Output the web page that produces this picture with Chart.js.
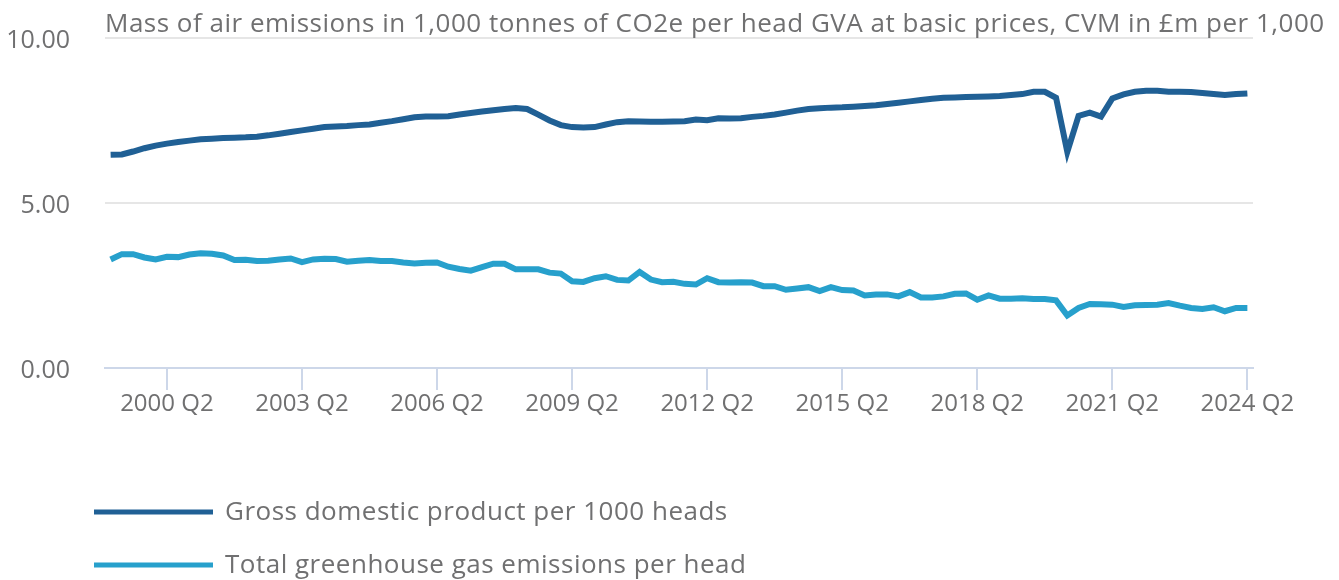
<!DOCTYPE html>
<html>
<head>
<meta charset="utf-8">
<script src="https://cdn.jsdelivr.net/npm/chart.js@4.4.1/dist/chart.umd.min.js"></script>
<style>
  html, body { margin: 0; padding: 0; background: #ffffff; }
  #wrap { position: relative; width: 1339px; height: 580px; }
</style>
</head>
<body>
<div id="wrap"><canvas id="c" width="1339" height="580"></canvas></div>
<script>
// ---- Data ----
const years = [];
for (let y = 1999; y <= 2024; y++) {
  for (let q = 1; q <= 4; q++) {
    if (y === 2024 && q > 2) break;
    years.push(y + ' Q' + q);
  }
}
const categories = years; // 1999 Q1 .. 2024 Q2

const gdpPer1000Heads = [
  6.46, 6.47, 6.56, 6.66, 6.74, 6.80, 6.85, 6.89, 6.93, 6.95,
  6.97, 6.98, 6.99, 7.01, 7.05, 7.10, 7.15, 7.20, 7.25, 7.30,
  7.32, 7.33, 7.36, 7.38, 7.43, 7.48, 7.54, 7.60, 7.62, 7.62,
  7.63, 7.68, 7.73, 7.77, 7.81, 7.85, 7.88, 7.85, 7.68, 7.50,
  7.36, 7.30, 7.29, 7.30, 7.38, 7.45, 7.48, 7.47, 7.46, 7.46,
  7.47, 7.48, 7.53, 7.51, 7.57, 7.56, 7.57, 7.61, 7.64, 7.68,
  7.74, 7.80, 7.85, 7.87, 7.89, 7.90, 7.92, 7.94, 7.96, 8.00,
  8.04, 8.08, 8.12, 8.16, 8.19, 8.20, 8.21, 8.22, 8.23, 8.24,
  8.27, 8.30, 8.37, 8.37, 8.19, 6.55, 7.64, 7.74, 7.62, 8.17,
  8.29, 8.37, 8.40, 8.40, 8.37, 8.37, 8.36, 8.33, 8.30, 8.27,
  8.30, 8.32
];

const ghgPerHead = [
  3.29, 3.45, 3.45, 3.35, 3.29, 3.37, 3.36, 3.44, 3.48, 3.46,
  3.41, 3.27, 3.28, 3.24, 3.25, 3.29, 3.32, 3.21, 3.29, 3.31,
  3.30, 3.22, 3.25, 3.27, 3.24, 3.24, 3.20, 3.17, 3.19, 3.20,
  3.07, 3.00, 2.95, 3.06, 3.16, 3.16, 2.99, 2.99, 2.99, 2.89,
  2.86, 2.63, 2.61, 2.72, 2.78, 2.67, 2.65, 2.91, 2.68, 2.60,
  2.61, 2.55, 2.53, 2.72, 2.60, 2.59, 2.60, 2.59, 2.48, 2.48,
  2.37, 2.41, 2.45, 2.33, 2.45, 2.36, 2.35, 2.20, 2.23, 2.23,
  2.17, 2.30, 2.14, 2.14, 2.17, 2.25, 2.26, 2.07, 2.20, 2.10,
  2.10, 2.11, 2.09, 2.09, 2.05, 1.59, 1.82, 1.94, 1.93, 1.92,
  1.85, 1.90, 1.91, 1.92, 1.97, 1.89, 1.82, 1.79, 1.84, 1.72,
  1.82, 1.82
];

const seriesNames = ['Gross domestic product per 1000 heads', 'Total greenhouse gas emissions per head'];
const yTickValues = [0, 5, 10];
const xTickLabels = ['2000 Q2', '2003 Q2', '2006 Q2', '2009 Q2', '2012 Q2', '2015 Q2', '2018 Q2', '2021 Q2', '2024 Q2'];
const axisTitle = 'Mass of air emissions in 1,000 tonnes of CO2e per head GVA at basic prices, CVM in £m per 1,000';

// ---- Styling ----
const FONT = '"Open Sans", "Noto Sans", sans-serif';
const TEXT = '#707071';
const DARK = '#206095';
const LIGHT = '#27a0cc';
const AXIS = '#cdd7e9';
const GRID = '#e6e6e6';

const titlePlugin = {
  id: 'topTitle',
  afterDraw(chart) {
    const ctx = chart.ctx;
    ctx.save();
    ctx.font = '26px ' + FONT;
    if ('letterSpacing' in ctx) ctx.letterSpacing = '0.5px';
    ctx.fillStyle = TEXT;
    ctx.textAlign = 'left';
    ctx.textBaseline = 'alphabetic';
    ctx.fillText(axisTitle, chart.chartArea.left, 32);
    ctx.restore();
  }
};

const legendPlugin = {
  id: 'vertLegend',
  afterDraw(chart) {
    const ctx = chart.ctx;
    ctx.save();
    ctx.font = '26px ' + FONT;
    if ('letterSpacing' in ctx) ctx.letterSpacing = '0.5px';
    ctx.textBaseline = 'middle';
    ctx.textAlign = 'left';
    const rows = [512, 565];
    chart.data.datasets.forEach((ds, i) => {
      const y = rows[i];
      ctx.strokeStyle = ds.borderColor;
      ctx.lineWidth = 5;
      ctx.lineCap = 'butt';
      ctx.beginPath();
      ctx.moveTo(94, y);
      ctx.lineTo(213, y);
      ctx.stroke();
      ctx.fillStyle = TEXT;
      ctx.fillText(ds.label, 225, y + 1);
    });
    ctx.restore();
  }
};

new Chart(document.getElementById('c'), {
  type: 'line',
  data: {
    labels: categories,
    datasets: [
      { label: seriesNames[0], data: gdpPer1000Heads, borderColor: DARK, backgroundColor: DARK,
        borderWidth: 6, pointRadius: 0, tension: 0, fill: false },
      { label: seriesNames[1], data: ghgPerHead, borderColor: LIGHT, backgroundColor: LIGHT,
        borderWidth: 6, pointRadius: 0, tension: 0, fill: false }
    ]
  },
  options: {
    responsive: false,
    animation: false,
    events: [],
    layout: { padding: { top: 38, right: 86, bottom: 152, left: 0 } },
    plugins: {
      legend: { display: false },
      title: { display: false },
      tooltip: { enabled: false }
    },
    scales: {
      x: {
        type: 'category',
        offset: true,
        afterFit(scale) { scale.height = 60; scale.paddingLeft = 0; scale.paddingRight = 0; },
        border: { display: true, color: AXIS, width: 2 },
        grid: {
          drawOnChartArea: false,
          drawTicks: true,
          tickLength: 22,
          color: AXIS,
          lineWidth: 2,
          offset: false
        },
        ticks: {
          autoSkip: false,
          maxRotation: 0,
          minRotation: 0,
          padding: 0,
          color: TEXT,
          font: { family: FONT, size: 24 },
          callback(value, index) {
            const lab = this.getLabelForValue(value);
            return xTickLabels.includes(lab) ? lab : null;
          }
        }
      },
      y: {
        min: 0,
        max: 10,
        afterFit(scale) { scale.width = 105; scale.paddingTop = 0; scale.paddingBottom = 0; },
        afterBuildTicks(scale) { scale.ticks = yTickValues.map(v => ({ value: v })); },
        border: { display: false },
        grid: {
          drawTicks: false,
          lineWidth: 2,
          color(ctx) { return ctx.tick && ctx.tick.value === 0 ? 'rgba(0,0,0,0)' : GRID; }
        },
        ticks: {
          padding: 35,
          labelOffset: 3,
          color: TEXT,
          font: { family: FONT, size: 25 },
          callback(v) { return Number(v).toFixed(2); }
        }
      }
    }
  },
  plugins: [titlePlugin, legendPlugin]
});
</script>
</body>
</html>
